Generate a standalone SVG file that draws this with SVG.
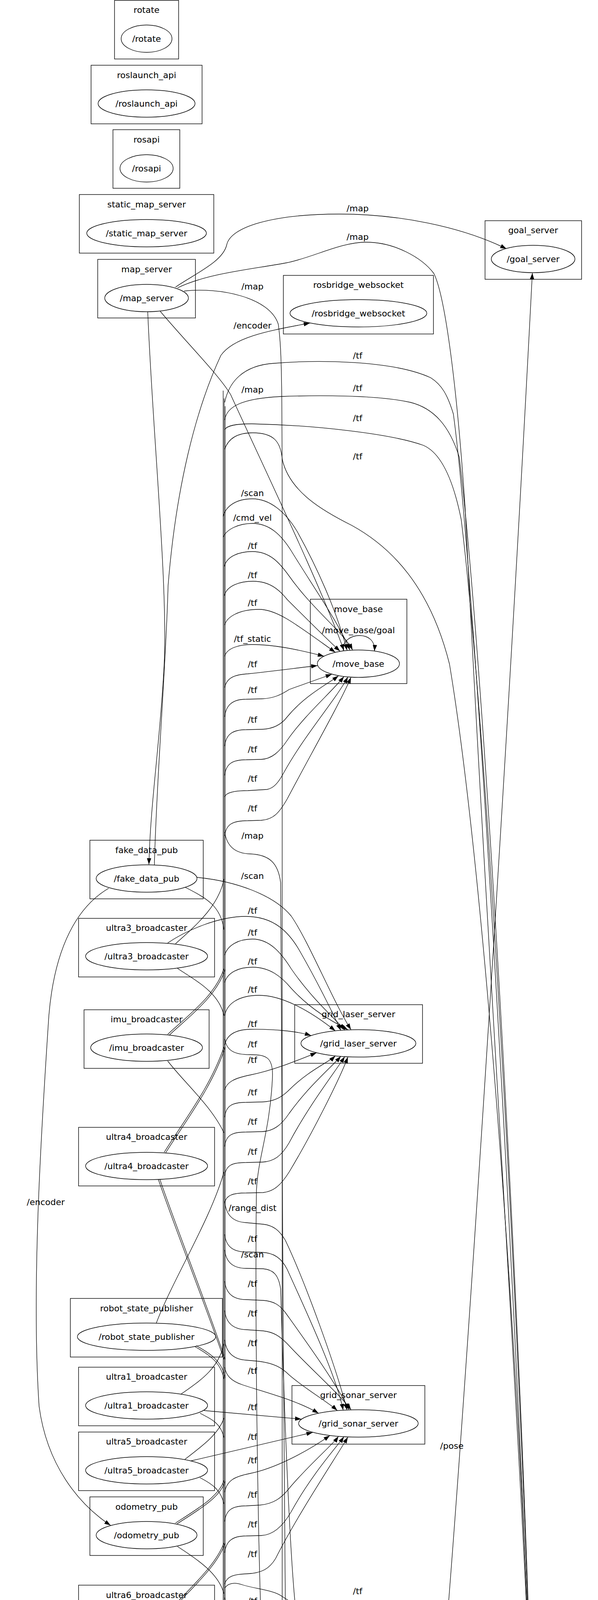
<svg xmlns="http://www.w3.org/2000/svg" width="1530" height="6038" viewBox="0 0 1530 6038">
<style>
text{font-family:"DejaVu Sans","Liberation Sans",sans-serif;font-size:22px;fill:#000;text-anchor:middle}
.c{fill:none;stroke:#000;stroke-width:1.4}
.n{fill:none;stroke:#000;stroke-width:1.4}
.e{fill:none;stroke:#000;stroke-width:1.3;marker-end:url(#a)}
.l{fill:none;stroke:#000;stroke-width:1.3}
</style>
<defs>
<marker id="a" viewBox="0 0 16 11" refX="16" refY="5.5" markerWidth="16" markerHeight="11" markerUnits="userSpaceOnUse" orient="auto"><path d="M0,0 L16,5.5 L0,11 z" fill="#000"/></marker>
</defs>
<rect width="1530" height="6038" fill="#fff"/>

<g id="nodes">
<g id="n_rotate"><rect class="c" x="293" y="1" width="164" height="150"/><text x="375" y="33">rotate</text><ellipse class="n" cx="375" cy="99" rx="65" ry="35"/><text x="375" y="107">/rotate</text></g>
<g id="n_roslaunch_api"><rect class="c" x="233" y="167" width="284" height="150"/><text x="375" y="200">roslaunch_api</text><ellipse class="n" cx="375" cy="265" rx="124" ry="35"/><text x="375" y="273">/roslaunch_api</text></g>
<g id="n_rosapi"><rect class="c" x="289" y="332" width="171" height="150"/><text x="375" y="365">rosapi</text><ellipse class="n" cx="375" cy="431" rx="68" ry="35"/><text x="375" y="439">/rosapi</text></g>
<g id="n_static_map_server"><rect class="c" x="203" y="498" width="344" height="150"/><text x="375" y="531">static_map_server</text><ellipse class="n" cx="375" cy="597" rx="153" ry="35"/><text x="375" y="605">/static_map_server</text></g>
<g id="n_map_server"><rect class="c" x="250" y="664" width="250" height="150"/><text x="375" y="697">map_server</text><ellipse class="n" cx="375" cy="763" rx="107" ry="35"/><text x="375" y="771">/map_server</text></g>
<g id="n_goal_server"><rect class="c" x="1241" y="565" width="247" height="150"/><text x="1364" y="597">goal_server</text><ellipse class="n" cx="1364" cy="663" rx="107" ry="35"/><text x="1364" y="671">/goal_server</text></g>
<g id="n_rosbridge_websocket"><rect class="c" x="725" y="705" width="384" height="150"/><text x="917" y="737">rosbridge_websocket</text><ellipse class="n" cx="917" cy="802" rx="175" ry="35"/><text x="917" y="810">/rosbridge_websocket</text></g>
<g id="n_move_base"><rect class="c" x="794" y="1534" width="247" height="216"/><text x="917" y="1567">move_base</text><ellipse class="n" cx="917" cy="1699" rx="105" ry="35"/><text x="917" y="1707">/move_base</text></g>
<g id="n_fake_data_pub"><rect class="c" x="230" y="2151" width="290" height="150"/><text x="375" y="2184">fake_data_pub</text><ellipse class="n" cx="375" cy="2249" rx="129" ry="35"/><text x="375" y="2257">/fake_data_pub</text></g>
<g id="n_ultra3_broadcaster"><rect class="c" x="201" y="2351" width="348" height="150"/><text x="375" y="2383">ultra3_broadcaster</text><ellipse class="n" cx="375" cy="2448" rx="156" ry="35"/><text x="375" y="2456">/ultra3_broadcaster</text></g>
<g id="n_grid_laser_server"><rect class="c" x="754" y="2572" width="327" height="150"/><text x="917" y="2604">grid_laser_server</text><ellipse class="n" cx="917" cy="2671" rx="147" ry="35"/><text x="917" y="2679">/grid_laser_server</text></g>
<g id="n_imu_broadcaster"><rect class="c" x="215" y="2585" width="320" height="150"/><text x="375" y="2617">imu_broadcaster</text><ellipse class="n" cx="375" cy="2682" rx="143" ry="35"/><text x="375" y="2690">/imu_broadcaster</text></g>
<g id="n_ultra4_broadcaster"><rect class="c" x="201" y="2886" width="348" height="150"/><text x="375" y="2918">ultra4_broadcaster</text><ellipse class="n" cx="375" cy="2985" rx="156" ry="35"/><text x="375" y="2993">/ultra4_broadcaster</text></g>
<g id="n_robot_state_publisher"><rect class="c" x="180" y="3324" width="389" height="150"/><text x="375" y="3357">robot_state_publisher</text><ellipse class="n" cx="375" cy="3422" rx="177" ry="35"/><text x="375" y="3430">/robot_state_publisher</text></g>
<g id="n_ultra1_broadcaster"><rect class="c" x="201" y="3500" width="348" height="150"/><text x="375" y="3532">ultra1_broadcaster</text><ellipse class="n" cx="375" cy="3598" rx="156" ry="35"/><text x="375" y="3606">/ultra1_broadcaster</text></g>
<g id="n_grid_sonar_server"><rect class="c" x="747" y="3547" width="340" height="150"/><text x="917" y="3579">grid_sonar_server</text><ellipse class="n" cx="917" cy="3644" rx="153" ry="35"/><text x="917" y="3652">/grid_sonar_server</text></g>
<g id="n_ultra5_broadcaster"><rect class="c" x="201" y="3666" width="348" height="150"/><text x="375" y="3698">ultra5_broadcaster</text><ellipse class="n" cx="375" cy="3764" rx="156" ry="35"/><text x="375" y="3772">/ultra5_broadcaster</text></g>
<g id="n_odometry_pub"><rect class="c" x="230" y="3832" width="290" height="150"/><text x="375" y="3865">odometry_pub</text><ellipse class="n" cx="375" cy="3930" rx="129" ry="35"/><text x="375" y="3938">/odometry_pub</text></g>
<g id="n_ultra6_broadcaster"><rect class="c" x="201" y="4058" width="348" height="150"/><text x="375" y="4091">ultra6_broadcaster</text><ellipse class="n" cx="375" cy="4156" rx="156" ry="35"/><text x="375" y="4164">/ultra6_broadcaster</text></g>
<g id="n_ultra2_broadcaster"><rect class="c" x="201" y="4344" width="348" height="150"/><text x="375" y="4376">ultra2_broadcaster</text><ellipse class="n" cx="375" cy="4443" rx="156" ry="35"/><text x="375" y="4451">/ultra2_broadcaster</text></g>
<g id="n_amcl"><rect class="c" x="839" y="4324" width="156" height="216"/><text x="916" y="4356">amcl</text><ellipse class="n" cx="916" cy="4488" rx="60" ry="35"/><text x="916" y="4496">/amcl</text></g>
<g id="n_grid_pose_server"><rect class="c" x="1201" y="4390" width="325" height="150"/><text x="1363" y="4423">grid_pose_server</text><ellipse class="n" cx="1363" cy="4488" rx="145" ry="35"/><text x="1363" y="4496">/grid_pose_server</text></g>
<g id="n_laser_broadcaster"><rect class="c" x="209" y="4748" width="331" height="150"/><text x="375" y="4780">laser_broadcaster</text><ellipse class="n" cx="375" cy="4846" rx="148" ry="35"/><text x="375" y="4854">/laser_broadcaster</text></g>
<g id="n_pose_publisher"><rect class="c" x="768" y="5082" width="298" height="150"/><text x="917" y="5114">pose_publisher</text><ellipse class="n" cx="917" cy="5180" rx="131" ry="35"/><text x="917" y="5188">/pose_publisher</text></g>
</g>

<g id="edges">
<path class="l" d="M571,1000 L571,5790"/>
<path class="l" d="M573.5,1020 L573.5,5780"/>
<path class="l" d="M576,1040 L576,5700"/>
<path class="e" d="M449,735 C500,700 570,670 580,627 C590,580 700,548 868,548 C1020,548 1180,580 1296,637"/>
<path class="e" d="M454,737 C530,700 640,690 732,673 C800,660 870,620 937,620 C1010,620 1080,660 1110,700 C1140,760 1170,1000 1190,1300 C1250,2500 1340,3800 1361,4452"/>
<path class="e" d="M471,745 C560,735 690,760 712,830 C722,900 722,1000 722,1500 L722,4500 C726,4650 830,4950 893,5146"/>
<path class="e" d="M410,797 C480,880 560,960 590,1010 C700,1250 820,1500 880,1665"/>
<path class="e" d="M378,798 C390,1100 430,1500 420,1700 C410,1900 385,2050 381,2213"/>
<path class="e" d="M395,2214 C400,2000 425,1700 430,1500 C450,1250 500,1050 565,910 C600,860 700,845 793,827"/>
<path class="e" d="M278,2274 C200,2320 140,2420 125,2600 C105,2900 80,3300 100,3600 C120,3750 200,3850 283,3905"/>
<path class="e" d="M571,1322 C578,1295 605,1277 646,1277 C690,1277 730,1310 760,1360 C810,1450 860,1560 888,1665"/>
<path class="e" d="M571,1375 C580,1355 610,1340 646,1340 C690,1340 720,1370 745,1410 C800,1500 870,1600 895,1664"/>
<path class="e" d="M574,1450 C580,1425 610,1412 646,1412 C690,1412 715,1440 740,1475 C800,1560 880,1620 902,1664"/>
<path class="e" d="M574,1525 C580,1500 612,1488 648,1488 C690,1488 715,1510 735,1535 C790,1590 840,1640 870,1667"/>
<path class="e" d="M575,1600 C580,1580 610,1560 663,1560 C710,1560 760,1600 858,1670"/>
<path class="e" d="M575,1680 C580,1660 610,1650 644,1650 C700,1650 760,1662 829,1680"/>
<path class="e" d="M575,1760 C580,1735 600,1727 634,1725 C700,1718 760,1710 812,1704"/>
<path class="e" d="M575,1835 C578,1805 595,1790 630,1790 L670,1789 C700,1788 720,1778 740,1765 L849,1726"/>
<path class="e" d="M575,1910 C578,1880 595,1868 630,1868 L670,1867 C700,1866 720,1855 735,1835 C780,1780 840,1750 866,1730"/>
<path class="e" d="M575,1985 C578,1955 595,1945 630,1945 L668,1944 C695,1943 715,1925 735,1895 C780,1830 850,1770 880,1732"/>
<path class="e" d="M575,2040 C578,2030 595,2024 634,2024 L683,2021 C700,2018 712,2004 725,1980 C780,1880 860,1790 890,1733"/>
<path class="e" d="M575,2140 C578,2110 595,2101 634,2101 L668,2100 C700,2098 715,2080 735,2045 C790,1940 870,1800 898,1734"/>
<path class="e" d="M878,1666 C876,1640 898,1627 920,1627 C942,1627 960,1640 958,1667"/>
<path class="e" d="M575,2130 C580,2165 600,2185 640,2186 C690,2188 712,2210 718,2260 C724,2500 722,3500 730,4100 C740,4250 840,4400 872,4464"/>
<path class="e" d="M503,2246 C600,2255 700,2290 745,2345 C790,2410 850,2560 898,2636"/>
<path class="e" d="M429,2414 C480,2380 560,2346 629,2346 C700,2346 740,2385 770,2440 C810,2510 850,2590 872,2638"/>
<path class="e" d="M575,2445 C582,2420 610,2404 646,2404 C690,2404 720,2440 745,2480 C800,2560 860,2610 882,2637"/>
<path class="e" d="M575,2515 C582,2490 610,2476 646,2476 C690,2476 720,2500 745,2530 C800,2590 860,2620 890,2636"/>
<path class="e" d="M575,2600 C580,2570 610,2548 663,2548 C720,2548 790,2585 858,2639"/>
<path class="e" d="M575,2675 C580,2650 600,2636 640,2635 C700,2634 760,2640 796,2651"/>
<path class="e" d="M575,2660 C580,2690 600,2700 640,2700 C680,2700 700,2705 697,2760 C690,2900 660,2960 656,3050 C652,3400 660,4000 672,4250 C690,4400 760,4485 856,4490"/>
<path class="e" d="M575,2790 C580,2770 600,2760 640,2752 C700,2740 760,2715 810,2695"/>
<path class="e" d="M575,2860 C578,2830 595,2822 630,2822 L670,2821 C700,2820 720,2810 740,2790 C790,2740 840,2720 858,2703"/>
<path class="e" d="M575,2935 C578,2905 595,2898 630,2898 L670,2897 C700,2896 720,2880 740,2850 C790,2780 850,2730 872,2704"/>
<path class="e" d="M575,3010 C578,2982 595,2976 630,2976 L670,2975 C700,2974 720,2960 740,2925 C790,2830 860,2740 882,2705"/>
<path class="e" d="M575,3080 C578,3060 595,3054 630,3054 L673,3053 C700,3050 718,3035 740,3000 C800,2900 870,2760 890,2706"/>
<path class="e" d="M575,3075 C578,3110 595,3128 630,3130 L673,3134 C700,3137 715,3150 730,3175 C780,3280 860,3500 888,3610"/>
<path class="e" d="M575,3160 C578,3190 595,3205 630,3205 L670,3206 C700,3207 720,3220 735,3250 C780,3350 860,3520 878,3610"/>
<path class="e" d="M575,3200 C578,3230 595,3247 630,3247 L673,3248 C700,3250 713,3265 718,3300 C724,3500 740,4000 760,4150 C800,4300 860,4420 880,4460"/>
<path class="e" d="M575,3280 C578,3310 595,3327 630,3327 L673,3329 C700,3331 715,3340 730,3360 C780,3430 860,3540 893,3609"/>
<path class="e" d="M575,3355 C578,3385 595,3403 630,3404 L673,3407 C700,3410 715,3420 735,3440 C790,3500 870,3570 898,3609"/>
<path class="e" d="M575,3430 C578,3460 595,3480 630,3482 L663,3485 C700,3490 720,3500 740,3520 C780,3555 840,3590 863,3611"/>
<path class="e" d="M575,3500 C578,3520 590,3535 620,3545 C680,3565 760,3585 815,3618"/>
<path class="e" d="M522,3611 L771,3633"/>
<path class="e" d="M488,3740 L800,3667"/>
<path class="e" d="M575,3820 C580,3790 600,3780 640,3772 C700,3760 780,3720 844,3675"/>
<path class="e" d="M575,3895 C578,3865 595,3855 630,3855 L665,3853 C700,3850 720,3835 740,3810 C790,3750 850,3700 866,3677"/>
<path class="e" d="M575,3975 C578,3945 595,3932 630,3932 L668,3931 C700,3930 725,3905 745,3870 C800,3770 865,3700 880,3678"/>
<path class="e" d="M575,4055 C580,4035 600,4030 630,4029 C670,4028 690,4015 705,3990 C760,3880 860,3730 890,3679"/>
<path class="e" d="M575,4065 C585,4052 600,4050 620,4057 C650,4067 700,4070 722,4087 L1302,4455"/>
<path class="e" d="M575,4090 C578,4120 595,4138 630,4139 L673,4141 C700,4144 715,4160 730,4190 C780,4300 860,4420 888,4457"/>
<path class="e" d="M575,4170 C578,4200 595,4213 630,4214 L673,4216 C700,4218 715,4230 725,4260 C760,4340 860,4420 895,4455"/>
<path class="e" d="M575,4245 C578,4270 595,4290 630,4292 L673,4295 C700,4298 715,4310 730,4330 C780,4390 860,4440 902,4454"/>
<path class="e" d="M575,4320 C578,4345 595,4370 630,4372 L673,4374 C700,4376 720,4385 740,4400 C790,4430 860,4440 908,4453"/>
<path class="e" d="M575,4395 C580,4420 600,4432 640,4432 C700,4432 780,4440 862,4473"/>
<path class="e" d="M575,4430 C582,4475 620,4490 700,4491 L856,4490"/>
<path class="e" d="M898,4455 C895,4428 905,4417 918,4417 C935,4417 946,4430 942,4456"/>
<path class="e" d="M575,4510 C580,4540 610,4568 683,4569 C730,4569 800,4550 880,4516"/>
<path class="e" d="M575,4590 C580,4615 610,4637 659,4637 C720,4637 800,4580 890,4519"/>
<path class="e" d="M575,4660 C580,4690 610,4711 649,4711 C720,4711 820,4620 898,4521"/>
<path class="e" d="M575,4735 C580,4765 605,4786 644,4786 C720,4786 840,4650 905,4522"/>
<path class="e" d="M575,4810 C580,4840 605,4861 644,4861 C730,4861 860,4700 912,4523"/>
<path class="e" d="M439,4879 C490,4920 580,4925 615,4922 C700,4915 740,4860 780,4780 C840,4650 900,4560 920,4523"/>
<path class="e" d="M976,4488 L1217,4488"/>
<path class="e" d="M917,4523 L917,5145"/>
<path class="e" d="M575,4950 C580,4990 630,5015 680,5025 C720,5035 800,5070 866,5148"/>
<path class="e" d="M575,5040 C578,5060 590,5068 600,5075 L829,5154"/>
<path class="e" d="M575,5120 C580,5150 610,5170 683,5176 L786,5180"/>
<path class="e" d="M575,5195 C580,5225 615,5255 688,5255 C740,5255 800,5240 844,5209"/>
<path class="e" d="M575,5270 C580,5300 615,5323 663,5323 C720,5323 800,5270 855,5212"/>
<path class="e" d="M575,5345 C580,5375 615,5395 644,5395 C690,5395 712,5370 716,5330 C720,5290 800,5240 862,5213"/>
<path class="e" d="M575,5470 C580,5500 610,5521 644,5521 C690,5521 716,5490 718,5440 L720,5320 C722,5280 800,5240 870,5214"/>
<path class="e" d="M575,5545 C580,5575 610,5599 649,5599 C690,5599 716,5570 718,5520 L720,5330 C722,5290 810,5240 875,5215"/>
<path class="e" d="M575,5620 C580,5650 610,5672 649,5672 C690,5672 716,5640 718,5600 L720,5340 C722,5300 820,5245 880,5215"/>
<path class="e" d="M950,5146 C975,5090 995,5060 1015,5028 C1100,4850 1250,4650 1332,4522"/>
<path class="e" d="M575,5315 C585,5345 640,5358 751,5358 C900,5358 1060,5320 1130,5240 C1200,5150 1300,4800 1361,4524"/>
<path class="e" d="M575,5660 C585,5700 630,5707 673,5707 C800,5707 980,5600 1060,5510 C1150,5380 1270,5000 1355,4524"/>
<path class="e" d="M575,5725 C585,5765 650,5792 820,5792 C1000,5792 1150,5740 1190,5660 C1250,5500 1320,4900 1358,4524"/>
<path class="e" d="M575,5780 C585,5820 630,5834 683,5834 C740,5838 800,5860 960,5888 C1060,5905 1130,5860 1170,5800 C1230,5650 1320,5000 1361,4524"/>
<path class="e" d="M380,4882 C395,5100 440,5400 480,5540 C520,5700 560,5820 620,5880 C690,5950 770,5991 847,5991 C960,5991 1080,5930 1150,5905 C1200,5870 1230,5700 1260,5500 C1290,5200 1340,4800 1363,4524"/>
<path class="e" d="M575,1030 C585,980 620,935 702,930 C800,922 1000,920 1102,967 C1130,985 1145,1010 1160,1060 C1220,1500 1330,3500 1361,4452"/>
<path class="e" d="M575,1075 C580,1040 620,1020 720,1015 C800,1012 960,1010 1050,1030 C1110,1045 1150,1090 1175,1170 C1240,1700 1340,3500 1361,4452"/>
<path class="e" d="M575,1100 C580,1090 600,1085 644,1085 C800,1088 1000,1110 1083,1140 C1130,1160 1160,1230 1180,1330 C1250,1900 1340,3600 1361,4452"/>
<path class="e" d="M575,1150 C585,1120 610,1108 646,1108 C700,1108 718,1130 722,1175 C740,1260 830,1310 900,1345 C1000,1400 1100,1500 1150,1700 C1250,2300 1340,3700 1361,4452"/>
<path class="e" d="M937,5146 C1000,5000 1090,4650 1112,4524 C1180,3800 1300,1900 1362,699"/>
<path class="l" d="M473,2271 C530,2300 565,2320 573,2380"/>
<path class="l" d="M449,2416 C500,2370 560,2320 573,2250"/>
<path class="l" d="M454,2479 C500,2510 560,2540 573,2600"/>
<path class="l" d="M429,2648 C480,2600 550,2550 573,2480"/>
<path class="l" d="M433,2650 C484,2602 553,2552 576,2482"/>
<path class="l" d="M429,2716 C470,2770 540,2830 573,2900"/>
<path class="l" d="M420,2950 C470,2870 540,2780 573,2680"/>
<path class="l" d="M424,2951 C474,2871 544,2781 576,2681"/>
<path class="l" d="M405,3019 C450,3150 540,3380 573,3480"/>
<path class="l" d="M409,3019 C454,3150 544,3380 576,3480"/>
<path class="l" d="M400,3387 C440,3280 540,3120 573,3000"/>
<path class="l" d="M498,3447 C540,3470 565,3490 573,3530"/>
<path class="l" d="M502,3445 C544,3468 569,3488 576,3528"/>
<path class="l" d="M463,3569 C520,3530 560,3500 573,3440"/>
<path class="l" d="M512,3618 C545,3635 565,3645 573,3680"/>
<path class="l" d="M473,3736 C520,3700 560,3670 573,3630"/>
<path class="l" d="M512,3783 C545,3800 565,3815 573,3850"/>
<path class="l" d="M449,3899 C510,3860 560,3830 573,3790"/>
<path class="l" d="M453,3901 C514,3862 564,3832 576,3792"/>
<path class="l" d="M454,3959 C510,3995 560,4030 573,4080"/>
<path class="l" d="M434,4123 C490,4060 550,4010 573,3950"/>
<path class="l" d="M438,4124 C494,4061 554,4011 576,3951"/>
<path class="l" d="M434,4190 C480,4240 550,4300 573,4380"/>
<path class="l" d="M420,4408 C470,4340 545,4250 573,4170"/>
<path class="l" d="M405,4477 C440,4540 540,4650 573,4760"/>
<path class="l" d="M409,4477 C444,4540 544,4650 576,4760"/>
<path class="l" d="M405,4811 C440,4700 540,4550 573,4480"/>
<path class="l" d="M384,4882 C400,5100 470,5450 512,5532 C540,5590 565,5620 576,5645"/>
</g>

<g id="edge-labels">
<text x="915" y="541">/map</text>
<text x="915" y="614">/map</text>
<text x="646" y="741">/map</text>
<text x="646" y="841">/encoder</text>
<text x="915" y="918">/tf</text>
<text x="915" y="1001">/tf</text>
<text x="646" y="1005">/map</text>
<text x="915" y="1078">/tf</text>
<text x="915" y="1176">/tf</text>
<text x="646" y="1270">/scan</text>
<text x="646" y="1333">/cmd_vel</text>
<text x="646" y="1405">/tf</text>
<text x="646" y="1480">/tf</text>
<text x="646" y="1551">/tf</text>
<text x="917" y="1621">/move_base/goal</text>
<text x="646" y="1643">/tf_static</text>
<text x="646" y="1708">/tf</text>
<text x="646" y="1774">/tf</text>
<text x="646" y="1850">/tf</text>
<text x="646" y="1926">/tf</text>
<text x="646" y="2001">/tf</text>
<text x="646" y="2077">/tf</text>
<text x="646" y="2147">/map</text>
<text x="646" y="2250">/scan</text>
<text x="646" y="2339">/tf</text>
<text x="646" y="2395">/tf</text>
<text x="646" y="2469">/tf</text>
<text x="646" y="2541">/tf</text>
<text x="646" y="2629">/tf</text>
<text x="646" y="2681">/tf</text>
<text x="646" y="2721">/tf</text>
<text x="646" y="2804">/tf</text>
<text x="646" y="2879">/tf</text>
<text x="646" y="2956">/tf</text>
<text x="646" y="3032">/tf</text>
<text x="117" y="3085">/encoder</text>
<text x="646" y="3100">/range_dist</text>
<text x="646" y="3179">/tf</text>
<text x="646" y="3219">/scan</text>
<text x="646" y="3294">/tf</text>
<text x="646" y="3370">/tf</text>
<text x="646" y="3446">/tf</text>
<text x="646" y="3517">/tf</text>
<text x="646" y="3610">/tf</text>
<text x="646" y="3686">/tf</text>
<text x="1156" y="3709">/pose</text>
<text x="646" y="3746">/tf</text>
<text x="646" y="3834">/tf</text>
<text x="646" y="3910">/tf</text>
<text x="646" y="3986">/tf</text>
<text x="915" y="4081">/tf</text>
<text x="646" y="4106">/tf</text>
<text x="646" y="4187">/tf</text>
<text x="646" y="4256">/tf</text>
<text x="646" y="4332">/tf</text>
<text x="646" y="4410">/tf</text>
<text x="915" y="4410">/tf</text>
<text x="646" y="4450">/tf_static</text>
<text x="1156" y="4483">/tf</text>
<text x="646" y="4525">/tf</text>
<text x="646" y="4602">/tf</text>
<text x="646" y="4678">/tf</text>
<text x="646" y="4754">/tf</text>
<text x="1156" y="4767">/pose</text>
<text x="646" y="4830">/tf</text>
<text x="896" y="4842">/tf</text>
<text x="646" y="4891">/tf</text>
<text x="646" y="4954">/tf</text>
<text x="646" y="5058">/tf</text>
<text x="646" y="5134">/tf_static</text>
<text x="646" y="5209">/tf</text>
<text x="915" y="5264">/tf</text>
<text x="646" y="5286">/tf</text>
<text x="646" y="5361">/tf</text>
<text x="915" y="5473">/tf</text>
<text x="646" y="5488">/tf</text>
<text x="646" y="5563">/tf</text>
<text x="646" y="5640">/tf</text>
<text x="915" y="5740">/tf</text>
<text x="915" y="5832">/tf</text>
<text x="915" y="5923">/tf</text>
</g>
</svg>
